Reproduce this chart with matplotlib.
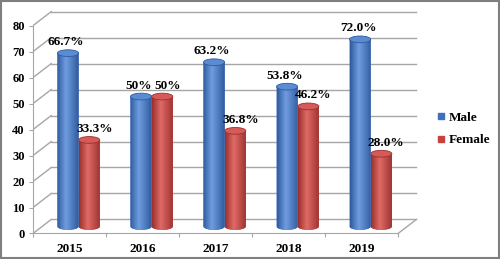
import matplotlib
matplotlib.use("Agg")
import matplotlib.pyplot as plt
import numpy as np
from matplotlib.colors import to_rgb
from matplotlib.lines import Line2D
from matplotlib.patches import Ellipse, Polygon, Rectangle

years = ["2015", "2016", "2017", "2018", "2019"]
male = [66.7, 50.0, 63.2, 53.8, 72.0]
female = [33.3, 50.0, 36.8, 46.2, 28.0]
male_labels = ["66.7%", "50%", "63.2%", "53.8%", "72.0%"]
female_labels = ["33.3%", "50%", "36.8%", "46.2%", "28.0%"]
yticks = [0, 10, 20, 30, 40, 50, 60, 70, 80]

plt.rcParams["font.family"] = ["Liberation Serif", "DejaVu Serif"]
plt.rcParams["font.weight"] = "bold"

GRID = "#a6a6a6"
DX, DY = 0.25, 5.4      # depth offset of back wall (x units, value units)
W = 0.29                # cylinder width
EH = 2.6                # ellipse height in value units

fig = plt.figure(figsize=(5.0, 2.59), dpi=100)
ax = fig.add_axes([0.066, 0.0734, 0.774, 0.915])
ax.set_facecolor("none")

n = len(years)
x = np.arange(n)
left, right = -0.5, n - 0.5

# back wall gridlines + left wall diagonals
for v in yticks:
    ax.plot([left + DX, right + DX], [v + DY, v + DY], color=GRID, lw=1, zorder=1)
    ax.plot([left, left + DX], [v, v + DY], color=GRID, lw=1, zorder=1)
# floor right edge
ax.plot([right, right + DX], [0, DY], color=GRID, lw=1, zorder=1)


def cylinder(xc, val, c_dark, c_mid, c_light, c_top):
    base = DY / 2
    top = base + val
    x0, x1 = xc - W / 2, xc + W / 2
    th = np.linspace(np.pi, 2 * np.pi, 40)
    arc = np.column_stack([xc + W / 2 * np.cos(th), base + EH / 2 * np.sin(th)])
    verts = np.vstack([[[x0, top], [x0, base]], arc, [[x1, base], [x1, top]]])
    body = Polygon(verts, closed=True, facecolor=c_mid, edgecolor="none", zorder=3)
    ax.add_patch(body)
    # horizontal shading across the cylinder
    t = np.linspace(0, 1, 60)
    stops = [0.0, 0.4, 1.0]
    cols = np.array([to_rgb(c_dark), to_rgb(c_light), to_rgb(c_dark)])
    grad = np.stack([np.interp(t, stops, cols[:, k]) for k in range(3)], axis=-1)
    im = ax.imshow(grad[np.newaxis, :, :], extent=(x0, x1, base - EH / 2, top),
                   aspect="auto", zorder=3, interpolation="bilinear")
    im.set_clip_path(body)
    ax.add_patch(Ellipse((xc, top), W, EH, facecolor=c_top,
                         edgecolor=c_dark, lw=0.6, zorder=4))
    return top


for i in range(n):
    xm = x[i] + DX / 2 - W / 2
    xf = x[i] + DX / 2 + W / 2
    tf = cylinder(xf, female[i], "#9a302d", "#c4433f", "#e06a66", "#d65a57")
    tm = cylinder(xm, male[i], "#2f5a9e", "#3f6fbe", "#6f9de0", "#5a8bd3")
    ax.annotate(male_labels[i], (xm, tm), xytext=(-2, 11), textcoords="offset pixels",
                ha="center", va="center", fontsize=9.5, fontweight="bold")
    ax.annotate(female_labels[i], (xf, tf), xytext=(5, 11), textcoords="offset pixels",
                ha="center", va="center", fontsize=9.5, fontweight="bold")

# front axes
for s in ["top", "right"]:
    ax.spines[s].set_visible(False)
ax.spines["left"].set_bounds(0, 80)
ax.spines["left"].set_color(GRID)
ax.spines["bottom"].set_position(("data", 0))
ax.spines["bottom"].set_bounds(left, right)
ax.spines["bottom"].set_color(GRID)

ax.set_yticks(yticks)
ax.set_yticklabels([str(v) for v in yticks], fontsize=9, fontweight="bold")
ax.tick_params(axis="y", length=3, color=GRID, pad=3)

ax.set_xticks(np.arange(n + 1) - 0.5)
ax.set_xticklabels([])
ax.set_xticks(x, minor=True)
ax.set_xticklabels(years, minor=True, fontsize=9.5, fontweight="bold")
ax.tick_params(axis="x", which="major", length=3, color=GRID)
ax.tick_params(axis="x", which="minor", length=0, pad=7)

ax.set_xlim(left, 4.80)
ax.set_ylim(-2.5, 88.7)

handles = [
    Line2D([], [], marker="s", ls="none", markersize=5, color="#3f6fbe", label="Male"),
    Line2D([], [], marker="s", ls="none", markersize=5, color="#c4433f", label="Female"),
]
fig.legend(handles=handles, loc="center left", bbox_to_anchor=(0.874, 0.502),
           frameon=False, prop={"size": 9.5, "weight": "bold"}, borderpad=0,
           borderaxespad=0, handlelength=0.6, handletextpad=0.3, labelspacing=0.75)

fig.add_artist(Rectangle((0.002, 0.004), 0.996, 0.992, transform=fig.transFigure,
                         fill=False, edgecolor="#7f7f7f", lw=1.5))

fig.savefig("out.png", dpi=100)
